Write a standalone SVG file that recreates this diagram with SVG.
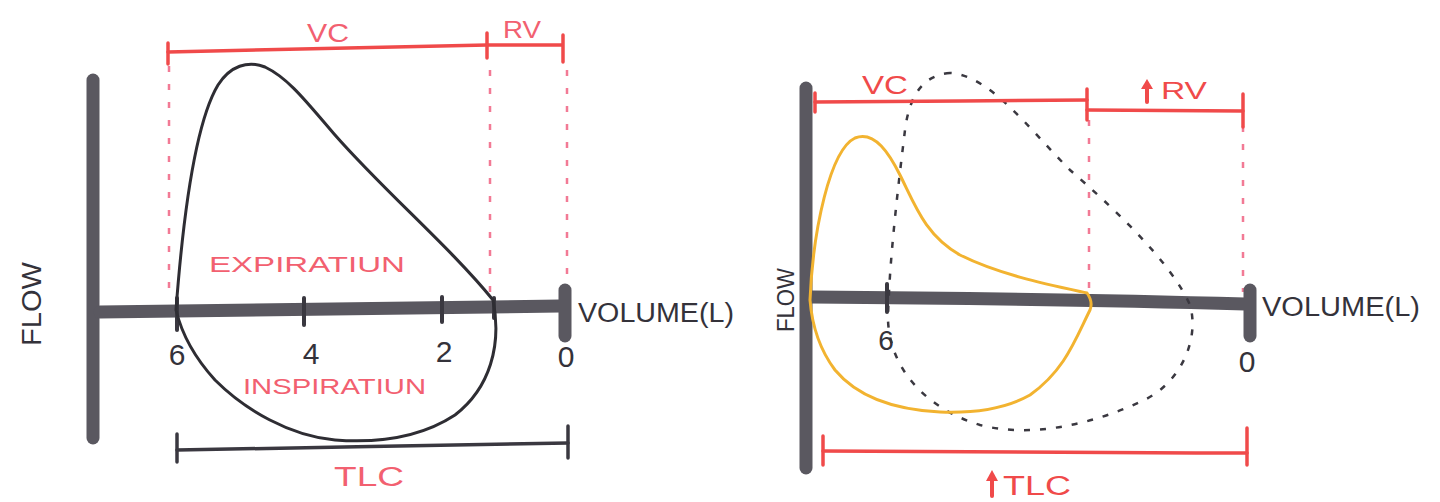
<svg xmlns="http://www.w3.org/2000/svg" width="1440" height="502" viewBox="0 0 1440 502">
<style>
.axis{stroke:#5a5860;stroke-width:13;stroke-linecap:round;fill:none}
.tick{stroke:#3a3840;stroke-width:4;stroke-linecap:round;fill:none}
.loop{stroke:#2e2d33;stroke-width:3;fill:none}
.yloop{stroke:#f2b330;stroke-width:3;fill:none}
.dloop{stroke:#3a3840;stroke-width:2.5;fill:none;stroke-dasharray:6 10}
.red{stroke:#f04a4a;stroke-width:3.5;stroke-linecap:round;fill:none}
.pdash{stroke:#f27a95;stroke-width:2.5;fill:none;stroke-dasharray:6 12}
.dark{stroke:#3a3840;stroke-width:3.5;stroke-linecap:round;fill:none}
.t{font-family:"Liberation Sans",Arial,sans-serif}
.pink{fill:#f26070}
.redt{fill:#f04a4a}
.dk{fill:#34323a}
</style>
<rect width="1440" height="502" fill="#ffffff"/>

<g id="left-panel">
  <g id="left-guides">
    <path class="pdash" d="M169,66 V300"/>
    <path class="pdash" d="M490,70 V298"/>
    <path class="pdash" d="M567,70 V282"/>
  </g>
  <g id="left-axes">
    <path class="axis" d="M93,80 V438"/>
    <path class="axis" d="M100,312 C250,310 400,308 560,306"/>
    <path class="axis" d="M565,290 V336"/>
  </g>
  <g id="left-ticks">
    <path class="tick" d="M177,298 V330"/>
    <path class="tick" d="M304,298 V325"/>
    <path class="tick" d="M442,297 V322"/>
    <path class="tick" d="M494,298 V318"/>
  </g>
  <g id="left-loop">
    <path class="loop" d="M176,310 C182,230 194,125 218,85 C230,66 248,60 265,67 C288,78 305,100 335,135 C385,192 450,247 493,300 C502,345 490,388 455,415 C420,438 375,443 335,440 C290,436 245,410 215,380 C195,358 182,335 176,310 Z"/>
  </g>
  <g id="left-vc-rv">
    <path class="red" d="M168,52 C260,50 380,47 487,45 L562,45"/>
    <path class="red" d="M168,43 V64"/>
    <path class="red" d="M487,33 V58"/>
    <path class="red" d="M563,35 V62"/>
    <text class="t pink" x="307" y="42" font-size="25" textLength="42" lengthAdjust="spacingAndGlyphs">VC</text>
    <text class="t pink" x="503" y="38" font-size="23" textLength="38" lengthAdjust="spacingAndGlyphs">RV</text>
  </g>
  <g id="left-tlc">
    <path class="dark" d="M177,450 C300,448 450,445 568,443"/>
    <path class="dark" d="M177,434 V462"/>
    <path class="dark" d="M568,426 V458"/>
    <text class="t pink" x="334" y="486" font-size="27" textLength="70" lengthAdjust="spacingAndGlyphs">TLC</text>
  </g>
  <g id="left-labels">
    <text class="t pink" x="209" y="272" font-size="22" textLength="196" lengthAdjust="spacingAndGlyphs">EXPIRATIUN</text>
    <text class="t pink" x="243" y="394" font-size="22" textLength="183" lengthAdjust="spacingAndGlyphs">INSPIRATIUN</text>
    <text class="t dk" x="177" y="365" font-size="30" text-anchor="middle">6</text>
    <text class="t dk" x="311" y="364" font-size="30" text-anchor="middle">4</text>
    <text class="t dk" x="444" y="362" font-size="30" text-anchor="middle">2</text>
    <text class="t dk" x="566" y="367" font-size="30" text-anchor="middle">0</text>
    <text class="t dk" x="578" y="322" font-size="27" textLength="156" lengthAdjust="spacingAndGlyphs">VOLUME(L)</text>
    <text class="t dk" transform="translate(41,346) rotate(-90)" font-size="28" textLength="84" lengthAdjust="spacingAndGlyphs">FLOW</text>
  </g>
</g>

<g id="right-panel">
  <g id="right-guides">
    <path class="pdash" d="M1089,120 V296"/>
    <path class="pdash" d="M1243,126 V292"/>
  </g>
  <g id="right-axes">
    <path class="axis" d="M806,88 V468"/>
    <path class="axis" d="M812,297 C950,298 1100,300 1245,304"/>
    <path class="axis" d="M1250,290 V336"/>
  </g>
  <g id="right-ticks">
    <path class="tick" d="M887,284 V312"/>
  </g>
  <g id="right-loops">
    <path class="dloop" d="M950,73 C925,75 910,92 905,130 C899,180 889,260 888,320 C890,372 930,410 980,425 C1030,438 1090,425 1140,402 C1180,385 1200,340 1190,305 C1170,260 1110,205 1070,170 C1030,130 990,75 950,73 Z"/>
    <path class="yloop" d="M810,300 C813,230 830,150 855,138 C875,130 890,155 900,175 C915,205 925,235 960,255 C1000,275 1050,285 1087,293 C1092,300 1092,305 1090,310 C1075,340 1065,370 1030,395 C1000,412 965,413 940,412 C900,410 860,400 835,370 C820,350 812,325 810,300 Z"/>
  </g>
  <g id="right-vc-rv">
    <path class="red" d="M815,102 C900,101 1000,101 1087,100"/>
    <path class="red" d="M1087,110 C1150,110 1200,111 1243,111"/>
    <path class="red" d="M815,93 V112"/>
    <path class="red" d="M1087,89 V120"/>
    <path class="red" d="M1243,94 V127"/>
    <text class="t redt" x="862" y="94" font-size="25" textLength="46" lengthAdjust="spacingAndGlyphs">VC</text>
    <path d="M1147,102 V86" stroke="#f04a4a" stroke-width="4" stroke-linecap="round"/>
    <path d="M1141,89 L1147,79 L1153,89 Z" fill="#f04a4a"/>
    <text class="t redt" x="1161" y="99" font-size="23" textLength="46" lengthAdjust="spacingAndGlyphs">RV</text>
  </g>
  <g id="right-tlc">
    <path class="red" d="M823,451 C950,452 1100,453 1247,453"/>
    <path class="red" d="M823,436 V465"/>
    <path class="red" d="M1247,428 V465"/>
    <path d="M992,496 V477" stroke="#f04a4a" stroke-width="4" stroke-linecap="round"/>
    <path d="M986,481 L992,470 L998,481 Z" fill="#f04a4a"/>
    <text class="t redt" x="1003" y="495" font-size="27" textLength="68" lengthAdjust="spacingAndGlyphs">TLC</text>
  </g>
  <g id="right-labels">
    <text class="t dk" x="886" y="350" font-size="28" text-anchor="middle">6</text>
    <text class="t dk" x="1247" y="372" font-size="30" text-anchor="middle">0</text>
    <text class="t dk" x="1262" y="316" font-size="27" textLength="158" lengthAdjust="spacingAndGlyphs">VOLUME(L)</text>
    <text class="t dk" transform="translate(794,332) rotate(-90)" font-size="24" textLength="64" lengthAdjust="spacingAndGlyphs">FLOW</text>
  </g>
</g>
</svg>
